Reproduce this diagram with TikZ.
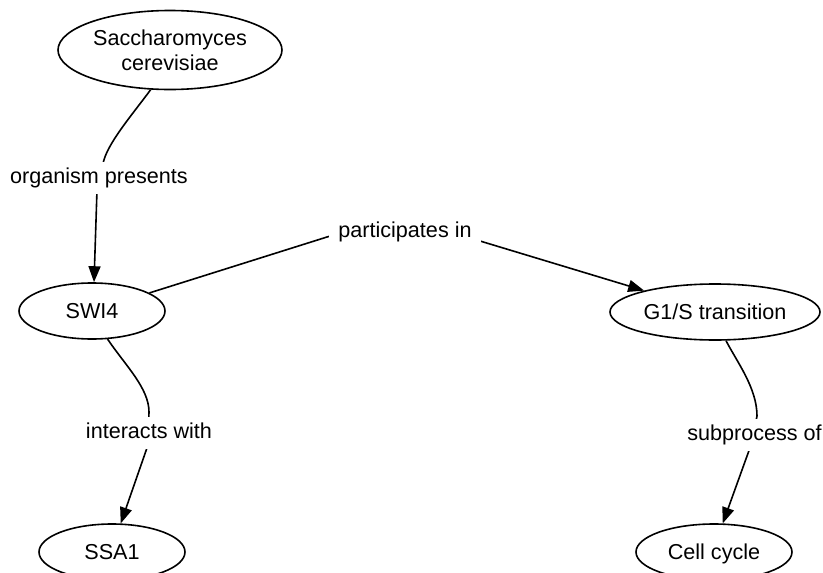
\documentclass[tikz,border=0pt]{standalone}
\usepackage{fontspec}
\setmainfont{Liberation Sans}
\usetikzlibrary{shapes.geometric,arrows.meta}
\begin{document}
\begin{tikzpicture}[x=1pt,y=-1pt,
  every node/.style={font=\fontsize{21.6}{25}\selectfont},
  ell/.style={draw,ellipse,line width=1.6pt,inner sep=0pt,text height=15.5pt,text depth=0pt},
  ellmulti/.style={draw,ellipse,line width=1.6pt,inner sep=0pt,align=center},
  lbl/.style={fill=white,inner xsep=9pt,inner ysep=6pt,text height=15.5pt,text depth=4.5pt,anchor=base},
  edge/.style={line width=1.6pt,-{Triangle[length=16pt,width=12pt]}}]
\useasboundingbox (0,0) rectangle (823,573);
\clip (0,0) rectangle (823,573);
\fill[white] (0,0) rectangle (823,573);

\node[ellmulti,minimum width=224pt,minimum height=79pt] (sc) at (170,50) {Saccharomyces\\cerevisiae};
\node[ell,minimum width=146pt,minimum height=56pt] (swi4) at (92,311) {SWI4};
\node[ell,minimum width=146pt,minimum height=56pt] (ssa1) at (112,552) {SSA1};
\node[ell,minimum width=210pt,minimum height=56pt] (g1s) at (715,312) {G1/S transition};
\node[ell,minimum width=156pt,minimum height=56pt] (cc) at (714,552) {Cell cycle};

\coordinate (pA) at (327,237);
\coordinate (pB) at (480,241);

\draw[edge] (sc.-116) .. controls (132,115) and (106,145) .. (103,164) -- (97,190) -- (swi4.86);
\draw[edge] (swi4) -- (pA) .. controls (405,212) .. (pB) -- (g1s);
\draw[edge] (swi4.-61) .. controls (125,365) and (149,388) .. (149,412) -- (148,445) -- (ssa1.73);
\draw[edge] (g1s.-69) .. controls (737,362) and (757,388) .. (757,416) -- (751,445) -- (cc.73);

\node[lbl] (lorg) at (99,183) {organism presents};
\node[lbl] (lpart) at (405,237) {participates in};
\node[lbl] (lint) at (149,438) {interacts with};
\node[lbl] (lsub) at (754.5,440) {subprocess of};
\end{tikzpicture}
\end{document}
